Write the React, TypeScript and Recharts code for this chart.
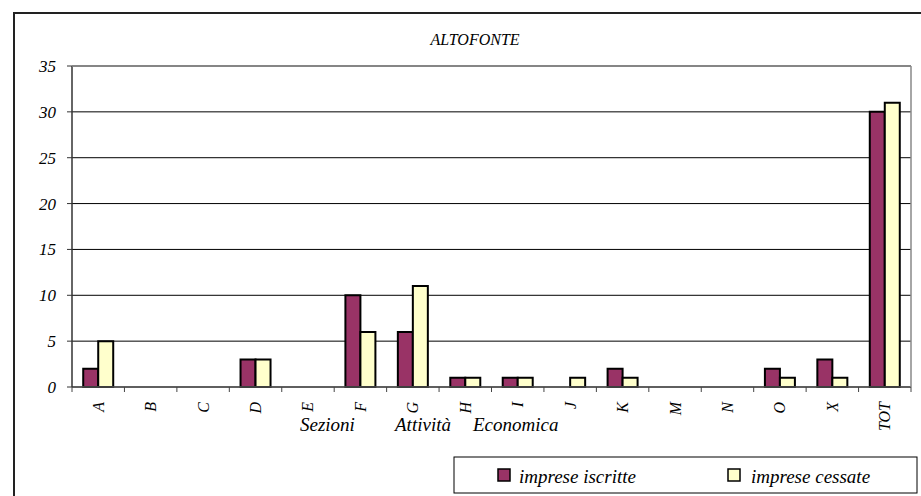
import React from "react";
import { BarChart, Bar, XAxis, YAxis, CartesianGrid } from "recharts";

const categories = ["A", "B", "C", "D", "E", "F", "G", "H", "I", "J", "K", "M", "N", "O", "X", "TOT"];
const iscritte = [2, 0, 0, 3, 0, 10, 6, 1, 1, 0, 2, 0, 0, 2, 3, 30];
const cessate = [5, 0, 0, 3, 0, 6, 11, 1, 1, 1, 1, 0, 0, 1, 1, 31];
const yTicks = [0, 5, 10, 15, 20, 25, 30, 35];
const seriesNames = ["imprese iscritte", "imprese cessate"];
const seriesColors = ["#993366", "#FFFFCC"];
const chartTitle = "ALTOFONTE";
const axisTitleWords = ["Sezioni", "Attività", "Economica"];

const data = categories.map((c, i) => ({ cat: c, iscritte: iscritte[i], cessate: cessate[i] }));

const W = 921;
const H = 496;
const PLOT_LEFT = 72;
const PLOT_RIGHT = 911;
const PLOT_TOP = 66;
const PLOT_BOTTOM = 387;
const BAND = (PLOT_RIGHT - PLOT_LEFT) / categories.length;
const FONT = "Liberation Serif, Times New Roman, serif";

const XTick = (props: any) => {
  const { x, payload, index } = props;
  const half = BAND / 2;
  return (
    <g>
      <line x1={x - half} x2={x - half} y1={PLOT_BOTTOM} y2={PLOT_BOTTOM + 5} stroke="#444" strokeWidth={1} />
      {index === categories.length - 1 && (
        <line x1={x + half} x2={x + half} y1={PLOT_BOTTOM} y2={PLOT_BOTTOM + 5} stroke="#444" strokeWidth={1} />
      )}
      <text
        transform={`translate(${x + 5.5},${PLOT_BOTTOM + 15}) rotate(-90)`}
        textAnchor="end"
        fontFamily={FONT}
        fontStyle="italic"
        fontSize={16}
        fill="#000"
      >
        {payload.value}
      </text>
    </g>
  );
};

export default function App() {
  return (
    <div style={{ position: "absolute", left: 0, top: 0, width: W, height: H, overflow: "hidden", background: "#fff" }}>
      <BarChart
        width={W}
        height={H}
        data={data}
        margin={{ top: PLOT_TOP, right: W - PLOT_RIGHT, bottom: 49, left: 12 }}
        barCategoryGap="21.4%"
        barGap={0}
      >
        <CartesianGrid vertical={false} stroke="#000" strokeWidth={1} />
        <XAxis
          dataKey="cat"
          interval={0}
          height={60}
          tick={<XTick />}
          tickLine={false}
          axisLine={{ stroke: "#555", strokeWidth: 1.5 }}
        />
        <YAxis
          width={60}
          domain={[0, 35]}
          ticks={yTicks}
          interval={0}
          tickSize={5}
          tickMargin={11}
          tickLine={{ stroke: "#333" }}
          axisLine={{ stroke: "#333", strokeWidth: 1.5 }}
          tick={{ fontFamily: FONT, fontStyle: "italic", fontSize: 17, fill: "#000" }}
        />
        <Bar dataKey="iscritte" name={seriesNames[0]} fill={seriesColors[0]} stroke="#000" strokeWidth={2} isAnimationActive={false} />
        <Bar dataKey="cessate" name={seriesNames[1]} fill={seriesColors[1]} stroke="#000" strokeWidth={2} isAnimationActive={false} />
      </BarChart>
      <svg width={W} height={H} style={{ position: "absolute", left: 0, top: 0, pointerEvents: "none" }}>
        <rect x={14} y={13} width={1000} height={1000} fill="none" stroke="#222" strokeWidth={2} />
        <line x1={PLOT_LEFT} x2={PLOT_RIGHT} y1={PLOT_TOP} y2={PLOT_TOP} stroke="#888" strokeWidth={1.5} />
        <line x1={PLOT_RIGHT} x2={PLOT_RIGHT} y1={PLOT_TOP} y2={PLOT_BOTTOM} stroke="#888" strokeWidth={1.5} />
        <text x={475} y={45} textAnchor="middle" fontFamily={FONT} fontStyle="italic" fontSize={16} fill="#000">
          {chartTitle}
        </text>
        <text y={431} fontFamily={FONT} fontStyle="italic" fontSize={19} fill="#000">
          <tspan x={300}>{axisTitleWords[0]}</tspan>
          <tspan x={395}>{axisTitleWords[1]}</tspan>
          <tspan x={473}>{axisTitleWords[2]}</tspan>
        </text>
        <rect x={454} y={457} width={463} height={36} fill="#fff" stroke="#000" strokeWidth={1} />
        <rect x={498} y={469} width={12} height={12} fill={seriesColors[0]} stroke="#000" strokeWidth={1.5} />
        <text x={519} y={483} fontFamily={FONT} fontStyle="italic" fontSize={19} fill="#000">
          {seriesNames[0]}
        </text>
        <rect x={728} y={469} width={12} height={12} fill={seriesColors[1]} stroke="#000" strokeWidth={1.5} />
        <text x={751} y={483} fontFamily={FONT} fontStyle="italic" fontSize={19} fill="#000">
          {seriesNames[1]}
        </text>
      </svg>
    </div>
  );
}
